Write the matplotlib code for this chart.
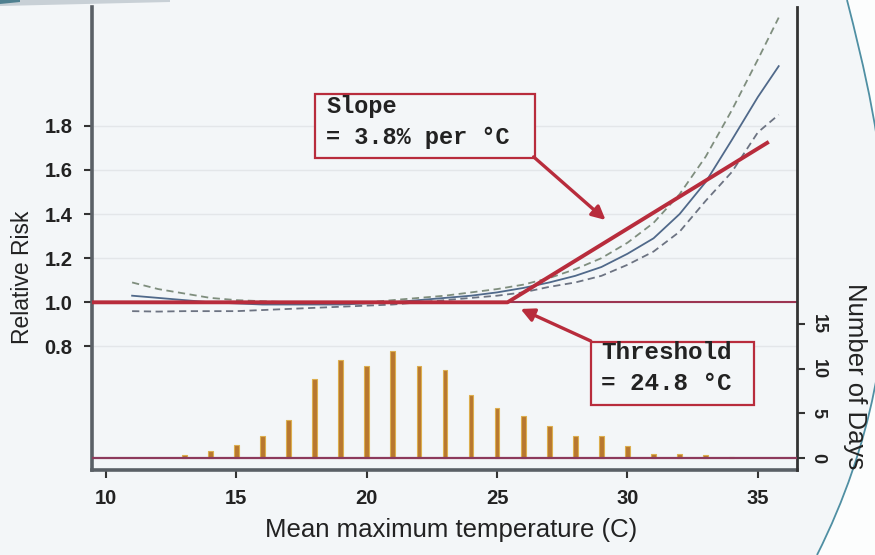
import matplotlib
matplotlib.use("Agg")
import matplotlib.pyplot as plt
from matplotlib.patches import Rectangle, PathPatch
from matplotlib.path import Path

# relative risk curve and 95% CI
temp = [11, 12, 13, 14, 15, 16, 17, 18, 19, 20, 21, 22, 23, 24, 25,
        26, 27, 28, 29, 30, 31, 32, 33, 34, 35, 35.8]
rr = [1.03, 1.02, 1.01, 1.0, 0.995, 0.99, 0.99, 0.99, 0.99, 0.995, 1.0, 1.01, 1.02, 1.03, 1.045,
      1.065, 1.09, 1.12, 1.16, 1.22, 1.29, 1.40, 1.545, 1.735, 1.93, 2.07]
rr_hi = [1.09, 1.06, 1.04, 1.02, 1.01, 1.005, 1.0, 1.0, 1.0, 1.0, 1.01, 1.02, 1.03, 1.045, 1.06,
         1.08, 1.11, 1.15, 1.20, 1.27, 1.36, 1.49, 1.66, 1.87, 2.10, 2.29]
rr_lo = [0.96, 0.958, 0.96, 0.96, 0.96, 0.965, 0.97, 0.975, 0.98, 0.985, 0.99, 1.0, 1.01, 1.02, 1.03,
         1.045, 1.07, 1.09, 1.12, 1.17, 1.23, 1.32, 1.46, 1.59, 1.77, 1.85]

# number of days per temperature
days_x = [13, 14, 15, 16, 17, 18, 19, 20, 21, 22, 23, 24, 25, 26, 27, 28, 29, 30, 31, 32, 33, 34]
days_n = [0.3, 0.8, 1.5, 2.5, 4.3, 8.8, 11.0, 10.3, 12.0, 10.3, 9.9, 7.1, 5.6, 4.7, 3.6, 2.5, 2.5,
          1.35, 0.5, 0.45, 0.3, 0.1]

# piecewise fit: flat up to the kink, then straight line
fit_x = [9.46, 25.4, 35.42]
fit_y = [1.0, 1.0, 1.727]

xticks = [10, 15, 20, 25, 30, 35]
rr_ticks = [0.8, 1.0, 1.2, 1.4, 1.6, 1.8]
day_ticks = [0, 5, 10, 15]

bg = '#f3f6f8'
red = '#b82c3c'
ink = '#222222'
sans = 'Liberation Sans'
mono = 'Liberation Mono'

fig = plt.figure(figsize=(8.75, 5.55), dpi=100, facecolor=bg)

# slide frame decoration (behind everything)
def px(x, y):
    return (x / 875, 1 - y / 555)

C4 = Path.CURVE4
outer = Path([px(847, 0), px(880, 130), px(930, 330), px(817, 555), px(875, 555), px(875, 0), px(847, 0)],
             [Path.MOVETO, C4, C4, C4, Path.LINETO, Path.LINETO, Path.CLOSEPOLY])
fig.patches.append(PathPatch(outer, transform=fig.transFigure, fc='#fcfdfd', ec='none', zorder=-2))
arc = Path([px(847, 0), px(880, 130), px(930, 330), px(817, 555)], [Path.MOVETO, C4, C4, C4])
fig.patches.append(PathPatch(arc, transform=fig.transFigure, fc='none', ec='#4f8fa3', lw=1.3, zorder=-1))
fig.patches.append(PathPatch(Path([px(0, 0), px(170, 0), px(170, 2), px(0, 6)]),
                             transform=fig.transFigure, fc='#c8d0d6', ec='none', zorder=-1))
fig.patches.append(PathPatch(Path([px(0, 0), px(20, 0), px(20, 2), px(0, 4)]),
                             transform=fig.transFigure, fc='#4f8090', ec='none', zorder=-1))

ax = fig.add_axes([0.1051, 0.1532, 0.8057, 0.8342])
ax.set_facecolor(bg)
ax2 = ax.twinx()

ax.set_xlim(9.46, 36.5)
ax.set_ylim(0.2404, 2.338)
ax2.set_ylim(-1.34, 50.5)

ax.yaxis.grid(True, color='#e3e6e9', lw=1.0, zorder=0)
ax.set_axisbelow(True)

ax.plot(temp, rr_hi, color='#7f8e7e', lw=1.3, ls=(0, (4, 2.5)), zorder=2)
ax.plot(temp, rr_lo, color='#6c7382', lw=1.3, ls=(0, (4, 2.5)), zorder=2)
ax.plot(temp, rr, color='#50698a', lw=1.3, zorder=2)

ax.axhline(1.0, color='#9c3552', lw=1.5, zorder=3)
ax.plot(fit_x, fit_y, color=red, lw=2.8, solid_capstyle='butt', zorder=4)

ax2.bar(days_x, days_n, width=0.18, color='#b8772f', edgecolor='#dcae4e', linewidth=0.8, zorder=2)
ax2.axhline(0, color='#8c3a5c', lw=1.6, zorder=3)

# annotations
ax.add_patch(Rectangle((18.03, 1.654), 8.44, 0.29, fc=bg, ec=red, lw=1.6, zorder=6))
ax.text(18.45, 1.885, 'Slope', family=mono, weight='bold', fontsize=17, color=ink,
        va='center', ha='left', zorder=7)
ax.text(18.45, 1.745, '= 3.8% per °C', family=mono, weight='bold', fontsize=17, color=ink,
        va='center', ha='left', zorder=7)
ax.annotate('', xy=(29.16, 1.373), xytext=(26.40, 1.659),
            arrowprops=dict(arrowstyle='-|>', color=red, lw=2.4, mutation_scale=20, shrinkA=0, shrinkB=0),
            zorder=6)

ax.add_patch(Rectangle((28.59, 0.535), 6.26, 0.285, fc=bg, ec=red, lw=1.6, zorder=6))
ax.text(29.0, 0.771, 'Threshold', family=mono, weight='bold', fontsize=17.5, color=ink,
        va='center', ha='left', zorder=7)
ax.text(29.0, 0.634, '= 24.8 °C', family=mono, weight='bold', fontsize=17.5, color=ink,
        va='center', ha='left', zorder=7)
ax.annotate('', xy=(25.90, 0.970), xytext=(28.59, 0.825),
            arrowprops=dict(arrowstyle='-|>', color=red, lw=2.4, mutation_scale=20, shrinkA=0, shrinkB=0),
            zorder=6)

# axes styling
ax.set_xticks(xticks)
ax.set_xticklabels([str(t) for t in xticks], family=sans, weight='bold', fontsize=14.5, color=ink)
ax.set_yticks(rr_ticks)
ax.set_yticklabels(['%.1f' % t for t in rr_ticks], family=sans, weight='bold', fontsize=14.5, color=ink)
ax.tick_params(axis='both', direction='out', length=6, width=1.5, color='#333333', pad=8)
ax2.set_yticks(day_ticks)
ax2.set_yticklabels([str(t) for t in day_ticks], family=sans, weight='bold', fontsize=13, color=ink,
                    rotation=-90, va='center')
ax2.tick_params(axis='y', direction='out', length=6, width=1.5, color='#333333', pad=3)

for s in ['top', 'right']:
    ax.spines[s].set_visible(False)
for s in ['top', 'left', 'bottom']:
    ax2.spines[s].set_visible(False)
ax.spines['left'].set_linewidth(2.6)
ax.spines['left'].set_color('#5a6066')
ax.spines['bottom'].set_linewidth(2.6)
ax.spines['bottom'].set_color('#5a6066')
ax2.spines['right'].set_linewidth(2.0)
ax2.spines['right'].set_color('#333333')

ax.set_xlabel('Mean maximum temperature (C)', family=sans, fontsize=18.5, color=ink, va='center')
ax.xaxis.set_label_coords(0.509, -0.13)
ax.set_ylabel('Relative Risk', family=sans, fontsize=16.5, color=ink, va='center')
ax.yaxis.set_label_coords(-0.099, 0.417)
ax2.set_ylabel('Number of Days', family=sans, fontsize=18.5, color=ink, rotation=-90, va='center')
ax2.yaxis.set_label_coords(1.082, 0.203)

fig.savefig('out.png', dpi=100, facecolor=bg)
